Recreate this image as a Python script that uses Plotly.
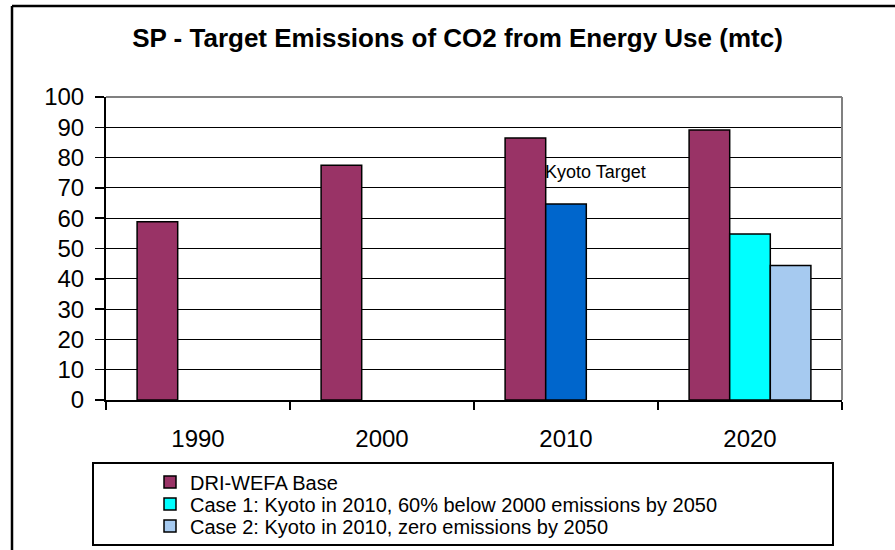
import plotly.graph_objects as go

# ---- data ----
years = ["1990", "2000", "2010", "2020"]
base_values = [58.8, 77.5, 86.5, 89.1]
kyoto_years = ["2010"]
kyoto_values = [64.7]
case1_years = ["2020"]
case1_values = [54.8]
case2_years = ["2020"]
case2_values = [44.4]
y_ticks = [0, 10, 20, 30, 40, 50, 60, 70, 80, 90, 100]

title_text = "SP - Target Emissions of CO2 from Energy Use (mtc)"
base_name = "DRI-WEFA Base"
case1_name = "Case 1: Kyoto in 2010, 60% below 2000 emissions by 2050"
case2_name = "Case 2: Kyoto in 2010, zero emissions by 2050"
kyoto_label = "Kyoto Target"

# ---- layout constants (pixels) ----
W, H = 895, 550
L, R, T, B = 106, 842, 97, 400   # plot area edges
FONT = "Liberation Sans, Arial, sans-serif"

def px_x(px):
    return (px - L) / (R - L)

def px_y(py):
    return (B - py) / (B - T)

outline = dict(color="black", width=1.5)

fig = go.Figure()
fig.add_trace(go.Bar(x=years, y=base_values, name=base_name, offsetgroup="a",
                     marker=dict(color="#993366", line=outline), legend="legend"))
fig.add_trace(go.Bar(x=kyoto_years, y=kyoto_values, name=kyoto_label, offsetgroup="b",
                     marker=dict(color="#0066CC", line=outline), showlegend=False))
fig.add_trace(go.Bar(x=case1_years, y=case1_values, name=case1_name, offsetgroup="b",
                     marker=dict(color="#00FFFF", line=outline), legend="legend2"))
fig.add_trace(go.Bar(x=case2_years, y=case2_values, name=case2_name, offsetgroup="c",
                     marker=dict(color="#A6CAF0", line=outline), legend="legend3"))

def leg(row_y):
    return dict(x=150 / W, xref="container", xanchor="left",
                y=1 - row_y / H, yref="container", yanchor="middle",
                bgcolor="rgba(0,0,0,0)", borderwidth=0,
                font=dict(family=FONT, size=20, color="black"),
                itemclick=False, itemdoubleclick=False)

fig.update_layout(
    width=W, height=H,
    margin=dict(l=L, r=W - R, t=T, b=H - B, pad=0, autoexpand=False),
    paper_bgcolor="white", plot_bgcolor="white",
    barmode="group", bargap=0.338, bargroupgap=0,
    font=dict(family=FONT, color="black"),
    title=dict(text="<b>" + title_text + "</b>", x=457.5 / W, xanchor="center",
               xref="container", y=1 - 38 / H, yref="container", yanchor="middle",
               font=dict(family=FONT, size=26, color="black")),
    xaxis=dict(type="category", categoryorder="array", categoryarray=years,
               range=[-0.5, len(years) - 0.5], autorange=False,
               showline=True, linecolor="black", linewidth=2,
               ticks="outside", tickson="boundaries", ticklen=8, tickwidth=2,
               tickcolor="black", showgrid=False, zeroline=False,
               tickfont=dict(family=FONT, size=24, color="black"),
               ticklabelstandoff=16, tickangle=0, automargin=False),
    yaxis=dict(range=[0, 100], autorange=False, tickvals=y_ticks, showline=True,
               linecolor="black", linewidth=2, ticks="outside", ticklen=9,
               tickwidth=1.5, tickcolor="black", showgrid=True, gridcolor="black",
               gridwidth=1, zeroline=False,
               tickfont=dict(family=FONT, size=24, color="black"),
               ticklabelstandoff=6, automargin=False),
    legend=leg(482), legend2=leg(504), legend3=leg(526),
    showlegend=True,
)

# plot area frame: gray top and right edges
fig.add_shape(type="line", xref="paper", yref="paper", x0=0, x1=1, y0=1, y1=1,
              line=dict(color="#808080", width=2))
fig.add_shape(type="line", xref="paper", yref="paper", x0=1, x1=1, y0=0, y1=1,
              line=dict(color="#808080", width=2))
# legend box
fig.add_shape(type="rect", xref="paper", yref="paper",
              x0=px_x(93), x1=px_x(833), y0=px_y(545), y1=px_y(463),
              line=dict(color="black", width=2), fillcolor="rgba(0,0,0,0)")
# outer chart border (top and left visible)
fig.add_shape(type="line", xref="paper", yref="paper",
              x0=px_x(12), x1=px_x(W + 20), y0=px_y(6), y1=px_y(6),
              line=dict(color="black", width=2.5))
fig.add_shape(type="line", xref="paper", yref="paper",
              x0=px_x(12), x1=px_x(12), y0=px_y(H + 20), y1=px_y(6),
              line=dict(color="black", width=2.5))

# data label for the Kyoto target bar (category index on the x axis)
fig.add_annotation(x=years.index(kyoto_years[0]), y=75.3, xref="x", yref="y",
                   text=kyoto_label, showarrow=False, xanchor="left",
                   yanchor="middle", xshift=-23,
                   font=dict(family=FONT, size=18, color="black"))

fig.write_html("out.html", config={"displayModeBar": False, "staticPlot": True},
               post_script="document.body.style.margin='0';"
                           "document.body.style.overflow='hidden';")
